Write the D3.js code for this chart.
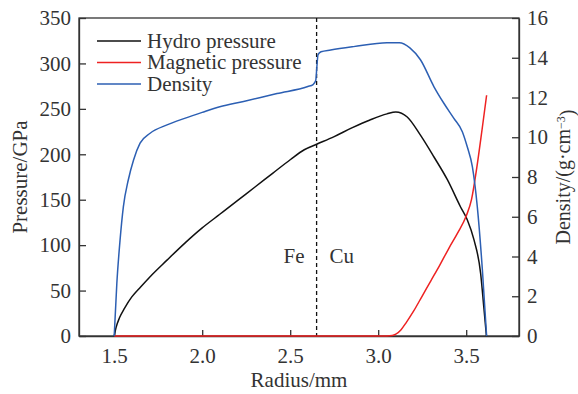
<!DOCTYPE html>
<html>
<head>
<meta charset="utf-8">
<script src="https://d3js.org/d3.v7.min.js"></script>
<style>
  body { margin: 0; background: #fff; }
  text { font-family: "Liberation Serif", "Times New Roman", serif; fill: #333; }
  .axis text { font-size: 21px; }
  .axis path, .axis line { stroke: #333; stroke-width: 1.3; }
</style>
</head>
<body>
<svg id="chart" width="578" height="394"></svg>
<script>
  // hydro pressure (GPa) vs radius (mm)
  var hydroR = [1.5, 1.51, 1.53, 1.56, 1.6, 1.65, 1.7, 1.8, 1.9, 2.0, 2.1, 2.2, 2.3, 2.4, 2.5, 2.58, 2.65, 2.75, 2.85, 2.95, 3.05, 3.1, 3.165, 3.24, 3.317, 3.393, 3.468, 3.506, 3.544, 3.582, 3.6, 3.615]
  var hydroP = [0, 9, 20, 31, 43, 54, 64.5, 83.5, 102, 119, 134, 149, 164, 179, 194, 205, 211, 219.5, 229, 237.5, 244.5, 246.5, 241, 221, 197, 172, 142, 128, 106, 69, 32, 0]

  // magnetic pressure (GPa)
  var magR = [1.5, 3.05, 3.08, 3.1, 3.13, 3.16, 3.2, 3.25, 3.3, 3.35, 3.4, 3.45, 3.5, 3.53, 3.56, 3.59, 3.616]
  var magP = [0, 0, 0.5, 2, 7, 15, 27, 44, 61, 78, 96, 113, 132, 150, 185, 227, 265]

  // density (g/cm3)
  var densR = [1.5, 1.515, 1.533, 1.552, 1.58, 1.61, 1.647, 1.704, 1.8, 1.9, 2.0, 2.1, 2.235, 2.425, 2.6, 2.63, 2.645, 2.652, 2.658, 2.675, 2.73, 2.86, 3.05, 3.12, 3.18, 3.24, 3.317, 3.373, 3.43, 3.478, 3.506, 3.535, 3.563, 3.592, 3.616]
  var densD = [0, 2.65, 4.8, 6.5, 7.85, 8.86, 9.7, 10.2, 10.62, 10.95, 11.25, 11.53, 11.8, 12.2, 12.55, 12.65, 12.85, 13.6, 14.15, 14.3, 14.39, 14.56, 14.76, 14.76, 14.5, 13.9, 12.54, 11.71, 10.95, 10.28, 9.52, 8.52, 6.51, 3.32, 0]

  var xTicks = [1.5, 2.0, 2.5, 3.0, 3.5]
  var pTicks = [0, 50, 100, 150, 200, 250, 300, 350]
  var dTicks = [0, 2, 4, 6, 8, 10, 12, 14, 16]
  var boundary = 2.65
  var legendNames = ["Hydro pressure", "Magnetic pressure", "Density"]
  var colors = ["#111111", "#ee2222", "#2c5fb3"]

  var svg = d3.select('#chart')
  var pLeft = 79, pRight = 519, pTop = 18, pBottom = 336

  var x = d3.scaleLinear().domain([1.3, 3.8]).range([pLeft, pRight])
  var yP = d3.scaleLinear().domain([0, 350]).range([pBottom, pTop])
  var yD = d3.scaleLinear().domain([0, 16]).range([pBottom, pTop])

  // frame
  svg.append('rect')
    .attr('x', pLeft).attr('y', pTop)
    .attr('width', pRight - pLeft).attr('height', pBottom - pTop)
    .attr('fill', 'none').attr('stroke', '#333').attr('stroke-width', 1.3)

  // axes, ticks point inwards
  svg.append('g').attr('class', 'axis')
    .attr('transform', 'translate(0,' + pBottom + ')')
    .call(d3.axisBottom(x).tickValues(xTicks).tickFormat(d3.format('.1f'))
      .tickSizeInner(-6).tickSizeOuter(0).tickPadding(12))
  svg.append('g').attr('class', 'axis')
    .attr('transform', 'translate(' + pLeft + ',0)')
    .call(d3.axisLeft(yP).tickValues(pTicks).tickSizeInner(-7).tickSizeOuter(0).tickPadding(8))
  svg.append('g').attr('class', 'axis')
    .attr('transform', 'translate(' + pRight + ',0)')
    .call(d3.axisRight(yD).tickValues(dTicks).tickSizeInner(-7).tickSizeOuter(0).tickPadding(8))

  // axis titles
  svg.append('text')
    .attr('x', (pLeft + pRight) / 2).attr('y', 387)
    .attr('text-anchor', 'middle').style('font-size', '21px')
    .text('Radius/mm')
  svg.append('text')
    .attr('transform', 'translate(27,' + (pTop + pBottom) / 2 + ')rotate(-90)')
    .attr('text-anchor', 'middle').style('font-size', '21px')
    .text('Pressure/GPa')
  var dt = svg.append('text')
    .attr('transform', 'translate(570,' + (pTop + pBottom) / 2 + ')rotate(-90)')
    .attr('text-anchor', 'middle').style('font-size', '20px')
  dt.append('tspan').text('Density/(g\u00b7cm')
  dt.append('tspan').attr('dy', '-0.45em').style('font-size', '12px').text('\u22123')
  dt.append('tspan').attr('dy', '0.45em').text(')')

  // Fe / Cu boundary
  svg.append('line')
    .attr('x1', x(boundary)).attr('x2', x(boundary))
    .attr('y1', pTop).attr('y2', pBottom)
    .attr('stroke', '#111').attr('stroke-width', 1.3)
    .attr('stroke-dasharray', '4,3')
  svg.append('text')
    .attr('x', x(boundary) - 12).attr('y', 263)
    .attr('text-anchor', 'end').style('font-size', '21px').text('Fe')
  svg.append('text')
    .attr('x', x(boundary) + 13).attr('y', 263)
    .style('font-size', '21px').text('Cu')

  // curves
  var lineP = d3.line().x(function(d) { return x(d[0]) }).y(function(d) { return yP(d[1]) })
    .curve(d3.curveMonotoneX)
  var lineD = d3.line().x(function(d) { return x(d[0]) }).y(function(d) { return yD(d[1]) })
    .curve(d3.curveMonotoneX)

  svg.append('path')
    .attr('d', lineP(d3.zip(hydroR, hydroP)))
    .attr('fill', 'none').attr('stroke', colors[0]).attr('stroke-width', 1.5)
  svg.append('path')
    .attr('d', lineP(d3.zip(magR, magP)))
    .attr('fill', 'none').attr('stroke', colors[1]).attr('stroke-width', 1.5)
  svg.append('path')
    .attr('d', lineD(d3.zip(densR, densD)))
    .attr('fill', 'none').attr('stroke', colors[2]).attr('stroke-width', 1.5)

  // legend
  var legend = svg.append('g')
  legendNames.forEach(function(name, i) {
    var ly = 41 + i * 21.5
    legend.append('line')
      .attr('x1', 97).attr('x2', 141).attr('y1', ly).attr('y2', ly)
      .attr('stroke', colors[i]).attr('stroke-width', 1.5)
    legend.append('text')
      .attr('x', 147).attr('y', ly).attr('dy', '0.33em')
      .style('font-size', '21px').text(name)
  })
</script>
</body>
</html>
